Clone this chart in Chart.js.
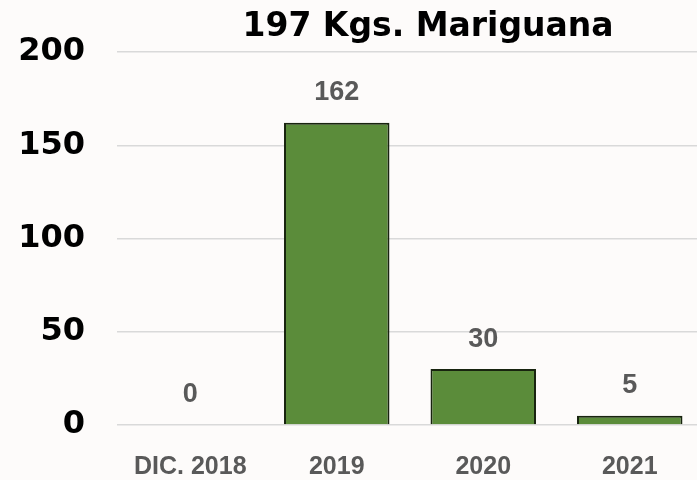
<!DOCTYPE html>
<html>
<head>
<meta charset="utf-8">
<script src="https://cdn.jsdelivr.net/npm/chart.js@4.4.0/dist/chart.umd.min.js"></script>
<style>
  html, body { margin: 0; padding: 0; overflow: hidden; background: #fdfbfa; }
  #wrap { position: relative; width: 703px; height: 480px; }
</style>
</head>
<body>
<div id="wrap"><canvas id="chart"></canvas></div>
<script>
const categories = ['DIC. 2018', '2019', '2020', '2021'];
const values = [0, 162, 30, 5];
const yTicks = [0, 50, 100, 150, 200];
const chartTitle = '197 Kgs. Mariguana';

// value labels above bars + title
const labelsPlugin = {
    id: 'labels',
    afterDatasetsDraw(chart) {
        const ctx = chart.ctx;
        const meta = chart.getDatasetMeta(0);
        ctx.save();
        ctx.fillStyle = '#595959';
        ctx.font = 'bold 27px "Liberation Sans Narrow", "Liberation Sans", sans-serif';
        ctx.textAlign = 'center';
        ctx.textBaseline = 'middle';
        meta.data.forEach((bar, i) => {
            ctx.fillText(values[i], bar.x, bar.y - 30);
        });
        ctx.fillStyle = '#000';
        ctx.font = 'bold 33px "DejaVu Sans", sans-serif';
        const area = chart.chartArea;
        ctx.fillText(chartTitle, (area.left + area.right) / 2 + 18, area.top - 25);
        ctx.restore();
    }
};

new Chart(document.getElementById('chart'), {
    type: 'bar',
    data: {
        labels: categories,
        datasets: [{
            data: values,
            backgroundColor: '#5b8c3a',
            borderColor: '#18240f',
            borderWidth: 2,
            borderSkipped: 'bottom',
            barPercentage: 0.72,
            categoryPercentage: 1
        }]
    },
    options: {
        responsive: true,
        maintainAspectRatio: false,
        animation: false,
        layout: { padding: { top: 52, right: 0, bottom: 0, left: 0 } },
        plugins: {
            legend: { display: false },
            tooltip: { enabled: false }
        },
        scales: {
            x: {
                grid: { display: false },
                border: { display: false },
                ticks: {
                    color: '#595959',
                    padding: 19,
                    font: { family: '"Liberation Sans Narrow", "Liberation Sans", sans-serif', size: 25, weight: 'bold' }
                },
                afterFit(scale) { scale.height = 55; }
            },
            y: {
                min: 0,
                max: 200,
                afterBuildTicks(scale) { scale.ticks = yTicks.map(v => ({ value: v })); },
                grid: { color: '#d9d9d9', lineWidth: 1.5, drawTicks: false },
                border: { display: false },
                ticks: {
                    color: '#000',
                    padding: 32,
                    font: { family: '"DejaVu Sans", sans-serif', size: 32, weight: 'bold' }
                },
                afterFit(scale) { scale.width = 117; }
            }
        }
    },
    plugins: [labelsPlugin]
});
</script>
</body>
</html>
